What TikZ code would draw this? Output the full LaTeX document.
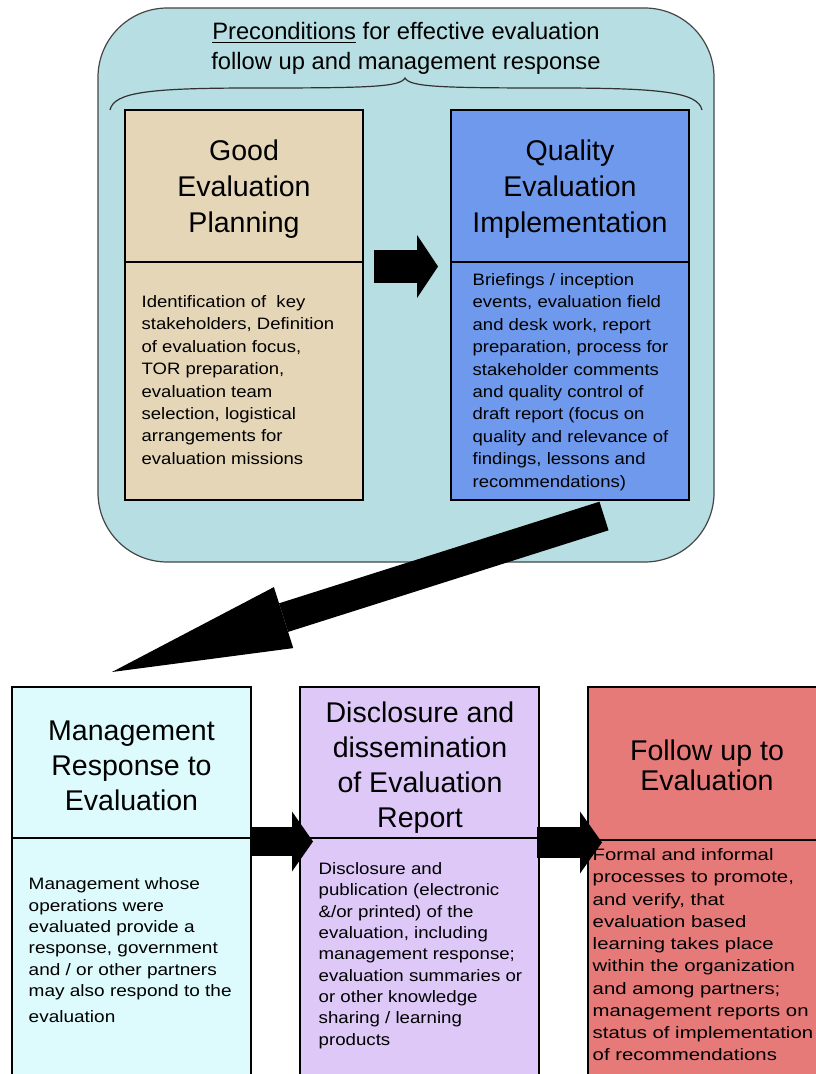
\documentclass[tikz,border=0pt]{standalone}
\usepackage{fontspec}
\setmainfont{Liberation Sans}
\usetikzlibrary{arrows.meta}

\tikzset{every picture/.style={line width=0.9pt}}
\tikzset{
  headtext/.style={anchor=north, inner sep=0pt, align=center, font=\fontsize{21.4}{27}\selectfont},
  bodytext/.style={anchor=north west, inner sep=0pt, align=left, font=\fontsize{12.4}{16.8}\selectfont, xscale=#1},
  bodytext/.default=1.12,
  blockarrow/.style n args={3}{line width=#1, -{Triangle[length=#2, width=#3, line width=0pt]}}
}

\begin{document}
\begin{tikzpicture}[x=0.75pt,y=0.75pt,yscale=-1,xscale=1]
\useasboundingbox (0,0) rectangle (816,1074);
\clip (0,0) rectangle (816,1074);

%Shape: Rounded Rect
\draw  [draw={rgb, 255:red, 70; green, 70; blue, 70 }, fill={rgb, 255:red, 183; green, 222; blue, 226 }, rounded corners=52pt] (98,8) rectangle (714,562) ;
%Curve Lines
\draw  [draw={rgb, 255:red, 50; green, 50; blue, 50 }] (110,110) .. controls (114,92) and (150,88) .. (255,88) .. controls (370,88) and (400,87) .. (405,78) .. controls (410,87) and (440,88) .. (555,88) .. controls (660,88) and (698,92) .. (702,110) ;

%Shape: Rectangle
\draw  [fill={rgb, 255:red, 229; green, 214; blue, 184 }] (125,110) rectangle (363,500) ;
\draw    (125,262) -- (363,262) ;
%Shape: Rectangle
\draw  [fill={rgb, 255:red, 111; green, 153; blue, 236 }] (451,110) rectangle (689,500) ;
\draw    (451,262) -- (689,262) ;

%Shape: Rectangle
\draw  [fill={rgb, 255:red, 221; green, 250; blue, 252 }] (12,687) rectangle (251,1090) ;
\draw    (12,838) -- (251,838) ;
%Shape: Rectangle
\draw  [fill={rgb, 255:red, 221; green, 200; blue, 247 }] (300,687) rectangle (539,1090) ;
\draw    (300,838) -- (539,838) ;
%Shape: Rectangle
\draw  [fill={rgb, 255:red, 229; green, 122; blue, 121 }] (588,687) rectangle (830,1090) ;
\draw    (588,840) -- (830,840) ;

% Block arrows
\coordinate (planout) at (374,266.5);
\coordinate (implin) at (438,266.5);
\draw  [blockarrow={24.75pt}{15.75pt}{47.25pt}] (planout) -- (implin) ;
\coordinate (implout) at (604,516);
\coordinate (mgmtin) at (112,672);
\draw  [blockarrow={22.5pt}{135pt}{48pt}] (implout) -- (mgmtin) ;
\coordinate (mgmtout) at (251,841.5);
\coordinate (discin) at (313,841.5);
\draw  [blockarrow={21.75pt}{15.75pt}{45pt}] (mgmtout) -- (discin) ;
\coordinate (discout) at (537,842.5);
\coordinate (follin) at (602,842.5);
\draw  [blockarrow={23.25pt}{16.5pt}{46.5pt}] (discout) -- (follin) ;

% Text Node
\draw (406,22) node [anchor=north, inner sep=0pt, align=center, font=\fontsize{17.8}{22.5}\selectfont] (precond) {\underline{Preconditions} for effective evaluation\\follow up and management response};

% Text Node
\draw (244,139) node [headtext] (planhead) {Good\\Evaluation\\Planning};
% Text Node
\draw (141,295) node [bodytext] (planbody) {Identification of\ \ key\\stakeholders, Definition\\of evaluation focus,\\TOR preparation,\\evaluation team\\selection, logistical\\arrangements for\\evaluation missions};

% Text Node
\draw (570,139) node [headtext] (implhead) {Quality\\Evaluation\\Implementation};
% Text Node
\draw (472,273) node [bodytext] (implbody) {Briefings / inception\\events, evaluation field\\and desk work, report\\preparation, process for\\stakeholder comments\\and quality control of\\draft report (focus on\\quality and relevance of\\findings, lessons and\\recommendations)};

% Text Node
\draw (131.5,720) node [headtext, font=\fontsize{21.4}{26.25}\selectfont] (mgmthead) {Management\\Response to\\Evaluation};
% Text Node
\draw (28,877) node [bodytext=1.15, font=\fontsize{12.4}{16.1}\selectfont] (mgmtbody) {Management whose\\operations were\\evaluated provide a\\response, government\\and / or other partners\\may also respond to the\\[3pt]evaluation};

% Text Node
\draw (420,701) node [headtext, font=\fontsize{21.4}{26.25}\selectfont] (dischead) {Disclosure and\\dissemination\\of Evaluation\\Report};
% Text Node
\draw (318,862) node [bodytext=1.13, font=\fontsize{12.4}{16}\selectfont] (discbody) {Disclosure and\\publication (electronic\\\&/or printed) of the\\evaluation, including\\management response;\\evaluation summaries or\\or other knowledge\\sharing / learning\\products};

% Text Node
\draw (707,739) node [headtext, font=\fontsize{21.4}{22.5}\selectfont] (follhead) {Follow up to\\Evaluation};
% Text Node
\draw (592,848) node [bodytext=1.23, font=\fontsize{12.4}{16.7}\selectfont] (follbody) {Formal and informal\\processes to promote,\\and verify, that\\evaluation based\\learning takes place\\within the organization\\and among partners;\\management reports on\\status of implementation\\of recommendations};

\end{tikzpicture}
\end{document}
